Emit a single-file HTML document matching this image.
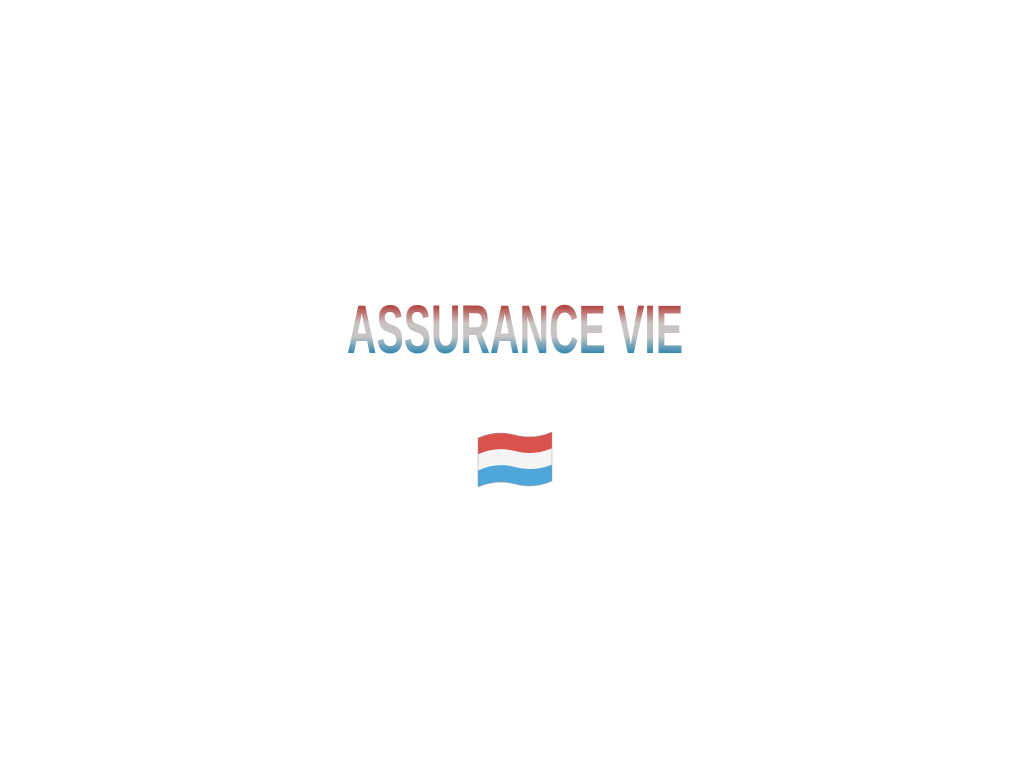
<!DOCTYPE html>
<html><head><meta charset="utf-8"><style>
html,body{margin:0;padding:0;background:#fff;width:1024px;height:768px;overflow:hidden}
</style></head><body>
<svg width="1024" height="768" xmlns="http://www.w3.org/2000/svg">
<defs>
<linearGradient id="g" x1="0" y1="303" x2="0" y2="354" gradientUnits="userSpaceOnUse">
<stop offset="0" stop-color="#b0302c"/>
<stop offset="0.4" stop-color="#c9c4c4"/>
<stop offset="0.65" stop-color="#c9c4c4"/>
<stop offset="1" stop-color="#2a86b0"/>
</linearGradient>
<clipPath id="fc"><path d="M478,438 Q496,430 515,435 Q534,440 552,432 L552,481 Q534,489 515,484 Q496,479 478,487 Z"/></clipPath>
</defs>
<text x="347" y="353" font-family="Liberation Sans, sans-serif" font-weight="bold" font-size="69" textLength="336" lengthAdjust="spacingAndGlyphs" fill="url(#g)">ASSURANCE VIE</text>
<g clip-path="url(#fc)">
<rect x="470" y="420" width="90" height="29" fill="#d9534c"/>
<path d="M470,452 L478,454.3 Q496,446 515,451 Q534,456 552,448.3 L560,448 L560,420 L470,420 Z" fill="#d9534c"/>
<rect x="470" y="445" width="90" height="50" fill="#f4f4f4"/>
<path d="M470,452 L478,454.3 Q496,446 515,451 Q534,456 552,448.3 L560,448 L560,420 L470,420 Z" fill="#d9534c"/>
<path d="M470,500 L470,471 L478,470.6 Q496,462 515,467 Q534,472 552,464.6 L560,465 L560,500 Z" fill="#4fa6d8"/>
</g>
<path d="M478,438 Q496,430 515,435 Q534,440 552,432 L552,481 Q534,489 515,484 Q496,479 478,487 Z" fill="none" stroke="#999" stroke-width="0.8" opacity="0.6"/>
</svg>
</body></html>
